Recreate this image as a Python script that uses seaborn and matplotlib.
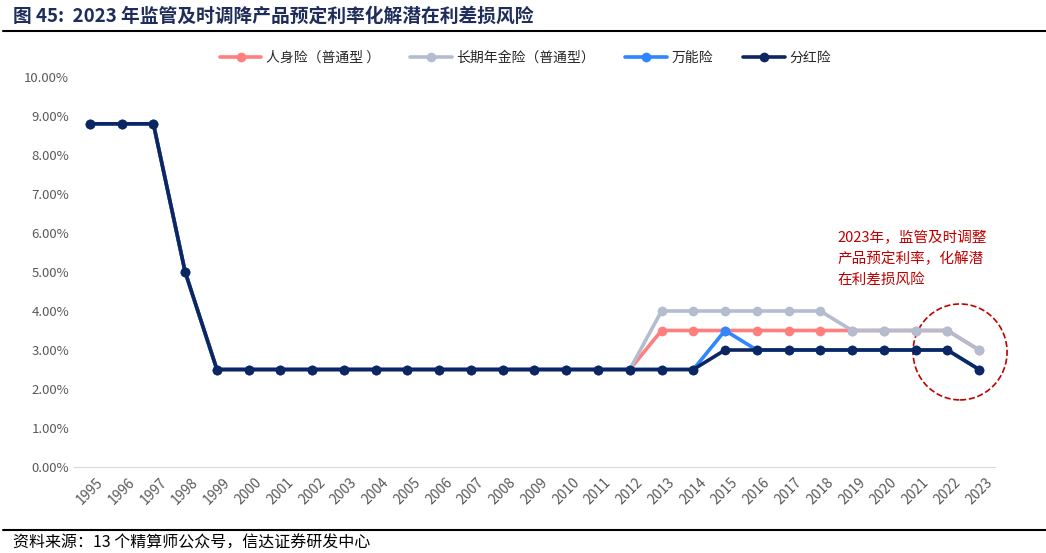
import pandas as pd
import matplotlib.pyplot as plt
import seaborn as sns
from matplotlib.patches import Ellipse

years = list(range(1995, 2024))
base = [8.8, 8.8, 8.8, 5.0] + [2.5] * 14   # 1995-2012
renshen = base + [3.5, 3.5, 3.5, 3.5, 3.5, 3.5, 3.5, 3.5, 3.5, 3.5, 3.0]
nianjin = base + [4.0, 4.0, 4.0, 4.0, 4.0, 4.0, 3.5, 3.5, 3.5, 3.5, 3.0]
wanneng = base + [2.5, 2.5, 3.5, 3.0, 3.0, 3.0, 3.0, 3.0, 3.0, 3.0, 2.5]
fenhong = base + [2.5, 2.5, 3.0, 3.0, 3.0, 3.0, 3.0, 3.0, 3.0, 3.0, 2.5]
names = ['人身险（普通型 ）', '长期年金险（普通型）', '万能险', '分红险']
colors = ['#FF7F7F', '#B4BCCF', '#2F86FF', '#0B2660']

df = pd.DataFrame({
    '年份': years * 4,
    '利率': renshen + nianjin + wanneng + fenhong,
    '险种': sum([[n] * len(years) for n in names], []),
})

sns.set_style('white')
plt.rcParams['font.family'] = ['Noto Sans CJK SC', 'DejaVu Sans']

fig = plt.figure(figsize=(10.46, 5.53), dpi=100)
ax = fig.add_axes([74 / 1046, 1 - 467 / 553, (995 - 74) / 1046, (467 - 77) / 553])

sns.lineplot(data=df, x='年份', y='利率', hue='险种', hue_order=names,
             palette=colors, marker='o', markersize=7, markeredgewidth=0,
             linewidth=2.6, ax=ax)

ax.set_xlim(1994.5, 2023.5)
ax.set_ylim(0, 10)
ax.set_yticks(range(0, 11))
ax.set_yticklabels([f'{v:.2f}%' for v in range(0, 11)], color='#595959', fontsize=9.5)
ax.set_xticks(years)
ax.set_xticklabels([str(y) for y in years], rotation=45, color='#595959', fontsize=10)
ax.set_xlabel('')
ax.set_ylabel('')
for s in ['top', 'right', 'left']:
    ax.spines[s].set_visible(False)
ax.spines['bottom'].set_color('#D9D9D9')
ax.tick_params(axis='both', length=0)
ax.tick_params(axis='x', pad=6)

ax.legend(loc='lower center', bbox_to_anchor=(0.49, 1.0), ncol=4, frameon=False,
          fontsize=10, handlelength=3, columnspacing=2.2, handletextpad=0.3)

# 标注
ax.add_patch(Ellipse((2022.4, 2.95), 2.96, 2.46, fill=False, edgecolor='#C00000',
                     linestyle='--', linewidth=1.2, clip_on=False))
ax.text(2018.55, 6.05, '2023年，监管及时调整\n产品预定利率，化解潜\n在利差损风险', color='#C00000',
        fontsize=10.5, va='top', ha='left', linespacing=1.55)

# 标题与来源
fig.text(13 / 1046, 1 - 16 / 553, '图 45:  2023 年监管及时调降产品预定利率化解潜在利差损风险',
         fontsize=13.5, fontweight='bold', color='#1F2D5A', va='center')
fig.add_artist(plt.Line2D([0.003, 1], [1 - 31 / 553] * 2, color='black', linewidth=1.5))
fig.add_artist(plt.Line2D([0.003, 1], [1 - 530 / 553] * 2, color='black', linewidth=1.5))
fig.text(13 / 1046, 1 - 543 / 553, '资料来源：13 个精算师公众号，信达证券研发中心',
         fontsize=11.5, style='italic', color='black', va='center')

fig.savefig('out.png', dpi=100)
